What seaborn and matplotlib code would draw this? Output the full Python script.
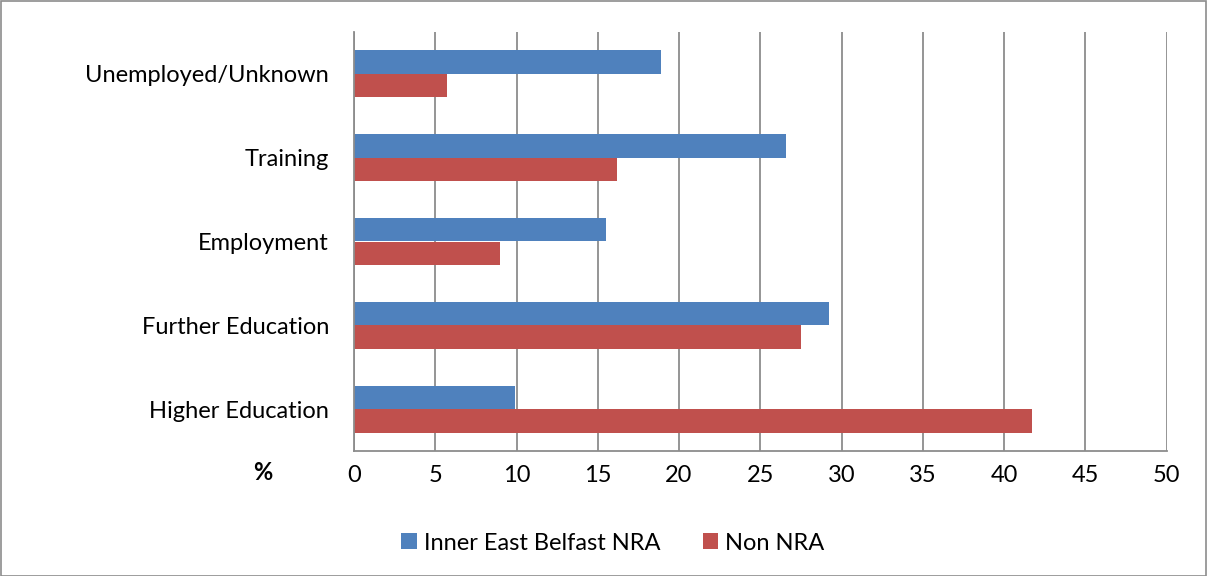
import matplotlib
matplotlib.use("Agg")
import matplotlib.pyplot as plt
import seaborn as sns
import pandas as pd
import numpy as np

categories = ["Unemployed/Unknown", "Training", "Employment", "Further Education", "Higher Education"]
inner_east = [18.9, 26.6, 15.5, 29.2, 9.9]
non_nra = [5.7, 16.2, 9.0, 27.5, 41.7]
series_names = ["Inner East Belfast NRA", "Non NRA"]
x_ticks = [0, 5, 10, 15, 20, 25, 30, 35, 40, 45, 50]

df = pd.DataFrame({
    "category": categories * 2,
    "value": inner_east + non_nra,
    "series": [series_names[0]] * 5 + [series_names[1]] * 5,
})

sns.set_style("white")
plt.rcParams['font.family'] = ['Lato', 'DejaVu Sans']
plt.rcParams['text.color'] = 'black'
plt.rcParams['xtick.labelcolor'] = 'black'
plt.rcParams['ytick.labelcolor'] = 'black'

W, H = 1207, 576
fig = plt.figure(figsize=(W / 100, H / 100), dpi=100)
ax = fig.add_axes([354 / W, 1 - 451 / H, (1166.5 - 354) / W, (451 - 32) / H])

palette = {series_names[0]: "#4F81BD", series_names[1]: "#C0504D"}
sns.barplot(data=df, y="category", x="value", hue="series", order=categories,
            hue_order=series_names, palette=palette, orient="h", width=0.56,
            ax=ax, saturation=1, edgecolor="none", legend=True)

FS = 17
ax.set_xlim(0, 50)
ax.set_ylim(4.5, -0.5)
ax.set_xticks(x_ticks)
ax.set_xticklabels([str(t) for t in x_ticks], fontsize=FS, color="black")
ax.set_xlabel("")
ax.set_ylabel("")
ax.tick_params(axis="x", direction="out", length=7, width=1.3, color="#8c8c8c", pad=3)
ax.set_yticks(range(len(categories)))
ax.set_yticklabels(categories, fontsize=FS, color="black")
ax.tick_params(axis="y", length=0, pad=18)
ax.set_yticks(np.arange(-0.5, 4.6, 1.0), minor=True)
ax.tick_params(axis="y", which="minor", direction="out", length=7, width=1.3, color="#8c8c8c")

ax.xaxis.grid(True, color="#8c8c8c", linewidth=1.3)
ax.yaxis.grid(False)
ax.set_axisbelow(True)
for s in ["top", "right"]:
    ax.spines[s].set_visible(False)
for s in ["left", "bottom"]:
    ax.spines[s].set_color("#8c8c8c")
    ax.spines[s].set_linewidth(1.3)

fig.text(263 / W, 1 - 473 / H, "%", fontsize=FS, fontweight="bold", ha="center", va="center",
         color="black")

leg = ax.get_legend()
handles, labels = ax.get_legend_handles_labels()
leg.remove()
fig.legend(handles, labels, loc="center", bbox_to_anchor=(613 / W, 1 - 543 / H), ncol=2,
           frameon=False, fontsize=FS, handlelength=0.65, handleheight=0.65,
           handletextpad=0.3, columnspacing=1.8, labelcolor="black")

border = plt.Rectangle((0.5 / W, 0.5 / H), 1 - 1.5 / W, 1 - 1.5 / H, transform=fig.transFigure,
                       fill=False, edgecolor="#8c8c8c", linewidth=1.2)
fig.patches.append(border)

fig.savefig("out.png", dpi=100)
